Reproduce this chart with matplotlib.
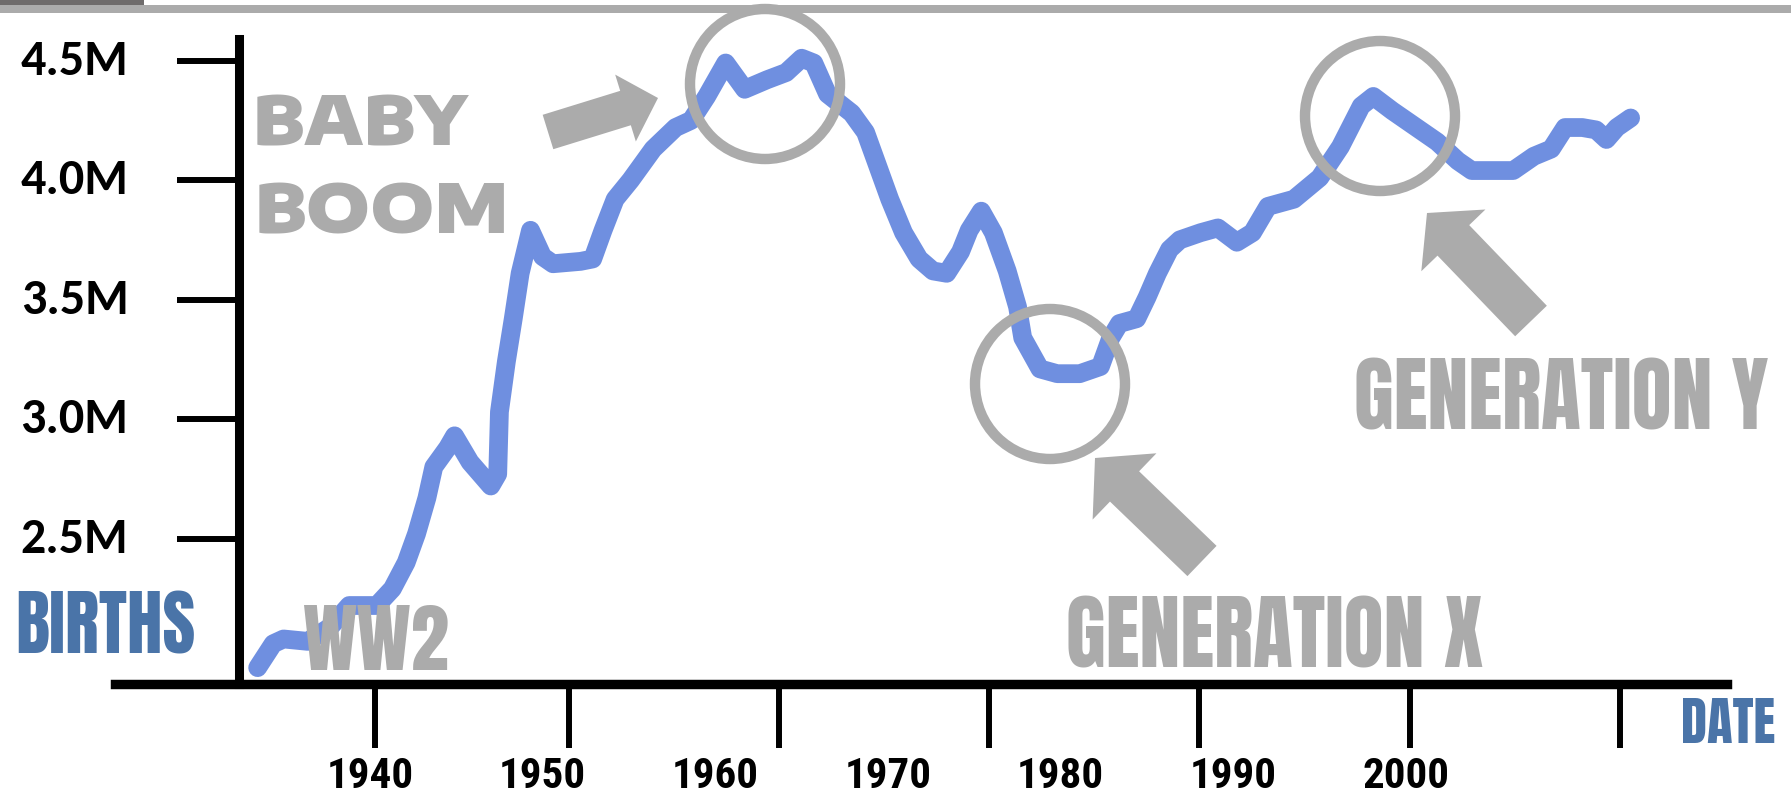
import matplotlib
matplotlib.use("Agg")
import matplotlib.pyplot as plt
from matplotlib.patches import Ellipse, Rectangle
from matplotlib.ticker import FixedLocator, NullFormatter

##  US births per year (millions)

YEARS = [1933.5, 1934.4, 1935.0, 1936.4, 1937.7, 1938.8, 1940.4, 1941.3, 1942.1,
         1942.7, 1943.3, 1943.7, 1944.5, 1944.9, 1945.8, 1947.0, 1947.4, 1947.5,
         1947.9, 1948.3, 1948.7, 1949.3, 1950.0, 1950.6, 1952.2, 1952.9, 1953.5,
         1954.2, 1955.1, 1956.4, 1957.7, 1958.6, 1959.5, 1960.6, 1961.7, 1963.0,
         1964.1, 1965.0, 1965.7, 1966.5, 1967.9, 1968.7, 1969.4, 1970.1, 1970.9,
         1971.8, 1972.6, 1973.4, 1974.2, 1974.7, 1975.4, 1976.1, 1976.9, 1977.5,
         1977.8, 1978.8, 1979.8, 1981.1, 1982.3, 1982.9, 1983.4, 1984.4, 1985.0,
         1985.6, 1986.3, 1986.9, 1988.1, 1989.1, 1990.2, 1991.1, 1992.0, 1993.5,
         1995.0, 1996.2, 1997.4, 1998.1, 1999.2, 2000.6, 2001.8, 2003.0, 2003.8,
         2006.2, 2007.4, 2008.4, 2009.2, 2010.2, 2011.0, 2011.6, 2012.2, 2013.0]
BIRTHS_M = [1.96, 2.06, 2.08, 2.07, 2.13, 2.22, 2.22, 2.29, 2.40,
            2.52, 2.67, 2.80, 2.88, 2.93, 2.82, 2.72, 2.77, 3.03,
            3.24, 3.42, 3.61, 3.79, 3.68, 3.65, 3.66, 3.67, 3.79,
            3.92, 4.00, 4.13, 4.22, 4.25, 4.35, 4.49, 4.38, 4.42,
            4.45, 4.51, 4.49, 4.36, 4.28, 4.20, 4.06, 3.92, 3.78,
            3.67, 3.62, 3.61, 3.70, 3.79, 3.87, 3.78, 3.62, 3.47,
            3.34, 3.21, 3.19, 3.19, 3.22, 3.34, 3.40, 3.42, 3.51,
            3.61, 3.71, 3.75, 3.78, 3.80, 3.74, 3.78, 3.89, 3.92,
            4.01, 4.14, 4.31, 4.35, 4.29, 4.22, 4.16, 4.08, 4.04,
            4.04, 4.10, 4.13, 4.22, 4.22, 4.21, 4.17, 4.22, 4.26]

Y_TICKS = [2.5, 3.0, 3.5, 4.0, 4.5]
Y_LABELS = ["2.5M", "3.0M", "3.5M", "4.0M", "4.5M"]
DECADES = [1940, 1950, 1960, 1970, 1980, 1990, 2000]
TICK_YEARS = [1940.3, 1951.5, 1963.7, 1975.85, 1988.0, 2000.2, 2012.4]

GREY = "#ababab"
BLUE_TXT = "#4a74a8"
LINE = "#6f8fe0"
IMPACT = ["Anton", "Oswald", "DejaVu Sans"]
NARROW = ["Roboto Condensed", "PT Sans Narrow", "DejaVu Sans"]
WIDE = ["Encode Sans Expanded", "Archivo Black", "DejaVu Sans"]
CALIBRI = ["Carlito", "Lato", "DejaVu Sans"]

W, H = 1791, 795


def fx(x):
    return x / W


def fy(y):
    return 1 - y / H


fig = plt.figure(figsize=(W / 100, H / 100), dpi=100)
ax = fig.add_axes([fx(115), fy(684), (1727 - 115) / W, (684 - 39) / H])

ax.plot(YEARS, BIRTHS_M, color=LINE, lw=13.5, solid_capstyle="round",
        solid_joinstyle="round", zorder=2)

ax.set_xlim(1925.24, 2018.58)
ax.set_ylim(1.8916, 4.5904)

for s in ["top", "right"]:
    ax.spines[s].set_visible(False)
ax.spines["left"].set_position(("data", 1932.42))
ax.spines["left"].set_linewidth(6.5)
ax.spines["bottom"].set_linewidth(6.8)

ax.set_yticks(Y_TICKS)
ax.set_yticklabels(Y_LABELS, fontfamily=CALIBRI, fontweight="bold", fontsize=36,
                   va="center")
ax.tick_params(axis="y", length=44.6, width=4.3, pad=35, color="black")

ax.xaxis.set_major_locator(FixedLocator(TICK_YEARS))
ax.xaxis.set_major_formatter(NullFormatter())
ax.xaxis.set_minor_locator(FixedLocator(DECADES))
ax.set_xticklabels([str(d) for d in DECADES], minor=True,
                   fontfamily=NARROW, fontweight="bold", fontsize=31)
ax.tick_params(axis="x", which="major", length=46, width=4.3)
ax.tick_params(axis="x", which="minor", length=0, pad=52)

# header bars
fig.add_artist(Rectangle((0, fy(13)), 1, 8 / H, transform=fig.transFigure,
                         color=GREY, lw=0))
fig.add_artist(Rectangle((0, fy(5)), fx(144), 5 / H, transform=fig.transFigure,
                         color="#6e6b6b", lw=0))

# circles around the turning points
for cx, cy in [(765, 84), (1050, 384), (1380, 116)]:
    fig.add_artist(Ellipse((fx(cx), fy(cy)), 150 / W, 150 / H,
                           transform=fig.transFigure, fill=False,
                           ec=GREY, lw=7.5, zorder=5))

# block arrows
for tail, tip, hl, hw, tw in [((548, 132), (658, 98), 34, 70, 36),
                              ((1202, 561), (1095, 458), 41, 92, 42),
                              ((1531, 321), (1427, 213), 38, 89, 44)]:
    ax.annotate("", xy=(fx(tip[0]), fy(tip[1])),
                xytext=(fx(tail[0]), fy(tail[1])),
                xycoords="figure fraction", textcoords="figure fraction",
                arrowprops=dict(arrowstyle="simple,head_length=%d,head_width=%d,tail_width=%d"
                                % (hl, hw, tw),
                                fc=GREY, ec="none", mutation_scale=0.72,
                                shrinkA=0, shrinkB=0))

# labels
fig.text(fx(253), fy(145), "BABY", color=GREY, fontsize=49, fontweight=900,
         fontfamily=WIDE, ha="left", va="baseline", zorder=6)
fig.text(fx(255), fy(233), "BOOM", color=GREY, fontsize=49, fontweight=900,
         fontfamily=WIDE, ha="left", va="baseline", zorder=6)
fig.text(fx(376), fy(670), "WW2", color=GREY, fontsize=55,
         fontfamily=IMPACT, ha="center", va="baseline", zorder=6)
fig.text(fx(1275), fy(668), "GENERATION X", color=GREY, fontsize=59,
         fontfamily=IMPACT, ha="center", va="baseline")
fig.text(fx(1561), fy(430), "GENERATION Y", color=GREY, fontsize=59,
         fontfamily=IMPACT, ha="center", va="baseline")
fig.text(fx(105), fy(653), "BIRTHS", color=BLUE_TXT, fontsize=51,
         fontfamily=IMPACT, ha="center", va="baseline")
fig.text(fx(1728), fy(743), "DATE", color=BLUE_TXT, fontsize=38,
         fontfamily=IMPACT, ha="center", va="baseline")

fig.savefig("out.png", dpi=100)
plt.close(fig)
